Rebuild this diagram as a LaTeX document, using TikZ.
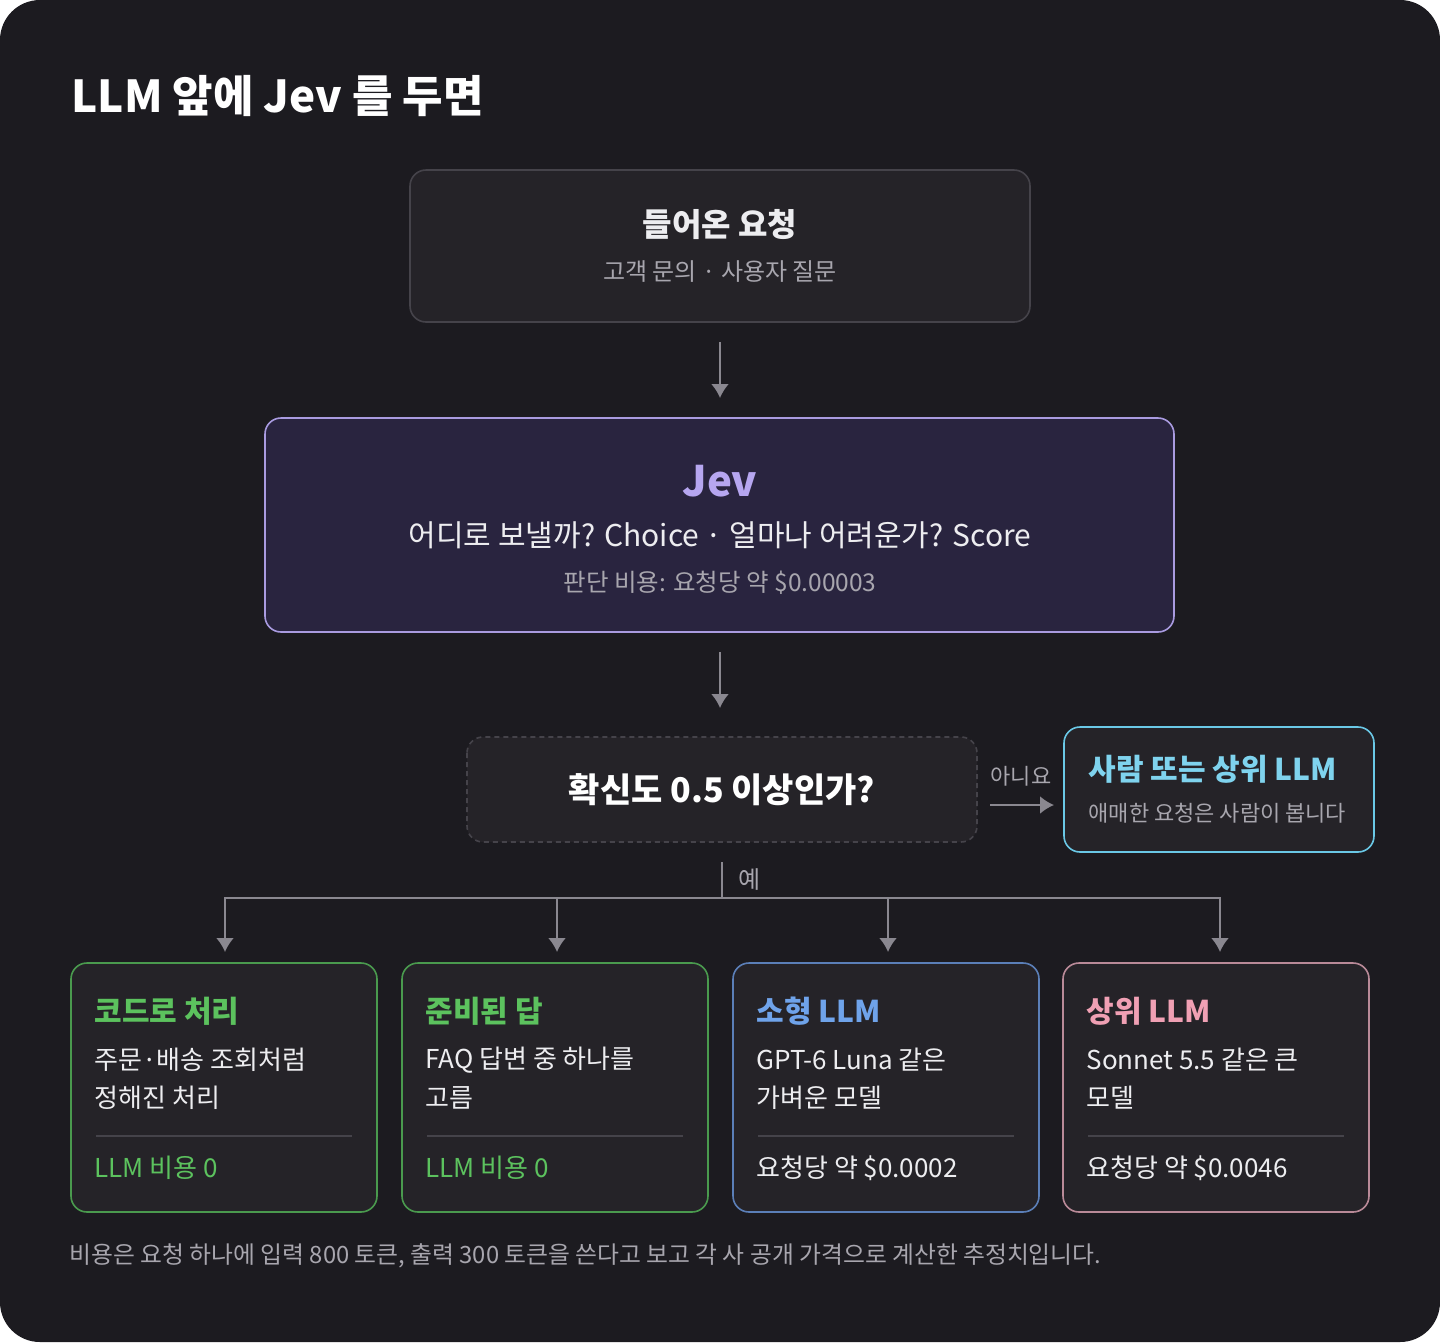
\documentclass[tikz,border=0pt]{standalone}
\usepackage{fontspec}
\setmainfont{Noto Sans CJK KR}
\usetikzlibrary{arrows.meta}
\begin{document}
\begin{tikzpicture}[x=1pt,y=-1pt,
 fs/.style={font=\fontsize{#1}{#1}\selectfont},
 fsb/.style={font=\fontsize{#1}{#1}\selectfont\bfseries},
 box/.style={draw=#1,line width=1.6pt,rounded corners=16pt,fill=boxbg},
 arr/.style={draw=arrc,line width=2.2pt,-{Latex[length=14pt,width=18pt]}},
 ln/.style={draw=arrc,line width=2.2pt}]
\definecolor{bg}{HTML}{1C1B20}\definecolor{boxbg}{HTML}{252328}
\definecolor{arrc}{HTML}{8A8890}\definecolor{gr}{HTML}{A8A6AE}
\definecolor{jevbg}{HTML}{29243F}\definecolor{jevb}{HTML}{A99BE0}\definecolor{jevt}{HTML}{B6A6F0}
\definecolor{cy}{HTML}{6AC8E6}\definecolor{cyt}{HTML}{7FD3EE}
\definecolor{gb}{HTML}{4A9A4E}\definecolor{gt}{HTML}{5CC25E}
\definecolor{bb}{HTML}{5B7FB8}\definecolor{bt}{HTML}{6FA3EA}
\definecolor{pb}{HTML}{B98A98}\definecolor{pt}{HTML}{F0A0B4}
\definecolor{sep}{HTML}{45434A}\definecolor{wt}{HTML}{EDEDF0}
\useasboundingbox (0,0) rectangle (1440,1342);
\fill[white] (0,0) rectangle (1440,1342);
\fill[bg,rounded corners=40pt] (0,0) rectangle (1440,1342);
\node[anchor=west,fsb=44,text=white] (title) at (68,96) {LLM 앞에 Jev 를 두면};
% top
\draw[box=sep] (410,170) rectangle (1030,322);
\node[fsb=32,text=wt] (reqt) at (720,225) {들어온 요청};
\node[fs=24,text=gr] (reqs) at (720,272) {고객 문의 · 사용자 질문};
\coordinate (a1) at (720,342); \coordinate (a1e) at (720,398);
\draw[arr] (a1) -- (a1e);
% jev
\draw[box=jevb,fill=jevbg] (265,418) rectangle (1174,632);
\node[fsb=42,text=jevt] (jev) at (720,481) {Jev};
\node[fs=30,text=wt] (jevl) at (720,535) {어디로 보낼까? Choice · 얼마나 어려운가? Score};
\node[fs=24.5,text=gr] (jevc) at (720,583) {판단 비용: 요청당 약 \$0.00003};
\coordinate (a2) at (720,652); \coordinate (a2e) at (720,708);
\draw[arr] (a2) -- (a2e);
% decision
\draw[box=sep,dashed,dash pattern=on 5pt off 4pt] (467,737) rectangle (977,842);
\node[fsb=34,text=white] (dec) at (722,790) {확신도 0.5 이상인가?};
\node[fs=22,text=gr] (no) at (1021,776) {아니요};
\coordinate (a3) at (990,805); \coordinate (a3e) at (1054,805);
\draw[arr] (a3) -- (a3e);
\draw[box=cy] (1064,727) rectangle (1374,852);
\node[anchor=west,fsb=30,text=cyt] (ht) at (1085,769) {사람 또는 상위 LLM};
\node[anchor=west,fs=22,text=gr] (hs) at (1085,813) {애매한 요청은 사람이 봅니다};
% branches
\coordinate (b0) at (722,862); \coordinate (b1) at (722,898);
\draw[ln] (b0) -- (b1);
\node[anchor=west,fs=24,text=gr] (yes) at (735,879) {예};
\draw[ln] (225,898) -- (1220,898);
\foreach \x/\n in {225/c1,557/c2,888/c3,1220/c4}{
 \coordinate (\n s) at (\x,897); \coordinate (\n e) at (\x,952);
 \draw[arr] (\n s) -- (\n e);}
% bottom boxes
\foreach \x/\b/\t/\ti/\la/\lb/\co/\cc/\n in {
 71/gb/gt/코드로 처리/주문·배송 조회처럼/정해진 처리/LLM 비용 0/gt/k1,
 402/gb/gt/준비된 답/FAQ 답변 중 하나를/고름/LLM 비용 0/gt/k2,
 733/bb/bt/소형 LLM/GPT-6 Luna 같은/가벼운 모델/요청당 약 \$0.0002/wt/k3,
 1063/pb/pt/상위 LLM/Sonnet 5.5 같은 큰/모델/요청당 약 \$0.0046/wt/k4}{
 \draw[box=\b] (\x,963) rectangle ++(306,249);
 \node[anchor=west,fsb=30,text=\t] (\n t) at (\x+20,1011) {\ti};
 \node[anchor=west,fs=26,text=wt] (\n a) at (\x+20,1060) {\la};
 \node[anchor=west,fs=26,text=wt] (\n b) at (\x+20,1098) {\lb};
 \draw[sep,line width=1.2pt] (\x+25,1136) -- (\x+281,1136);
 \node[anchor=west,fs=26,text=\cc] (\n c) at (\x+20,1168) {\co};}
\node[anchor=west,fs=23.8,text=gr] (foot) at (66,1256) {비용은 요청 하나에 입력 800 토큰, 출력 300 토큰을 쓴다고 보고 각 사 공개 가격으로 계산한 추정치입니다.};
\end{tikzpicture}
\end{document}
